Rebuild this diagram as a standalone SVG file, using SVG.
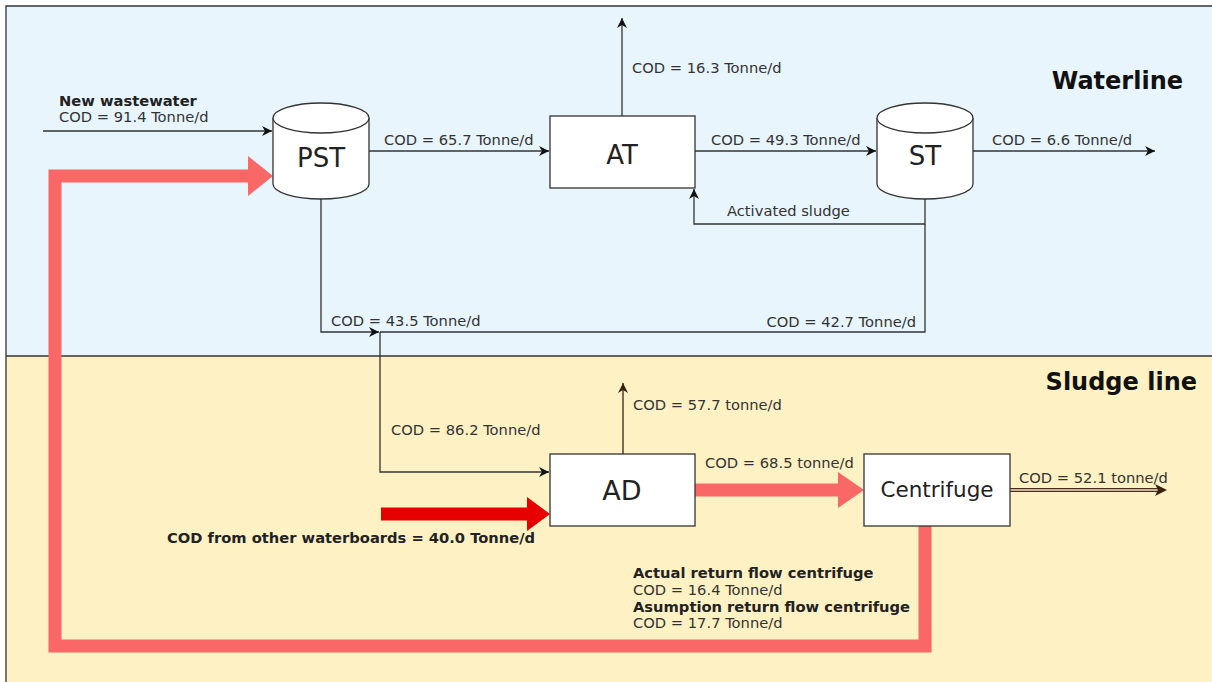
<svg xmlns="http://www.w3.org/2000/svg" width="1212" height="682" viewBox="0 0 1212 682">
<style>
.bg-w{fill:#E8F5FD}
.bg-s{fill:#FEF1C4}
.frame{fill:none;stroke:#333;stroke-width:1.3}
.node{fill:#fff;stroke:#333;stroke-width:1.3}
.nl{font-family:"DejaVu Sans",Verdana,sans-serif;font-size:26px;fill:#222;text-anchor:middle}
.lbl{font-family:"DejaVu Sans",Verdana,sans-serif;font-size:14.7px;fill:#333}
.b{font-weight:bold;fill:#222}
.title{font-family:"DejaVu Sans",Arial,sans-serif;font-size:24px;font-weight:bold;fill:#111;text-anchor:end}
.ln{fill:none;stroke:#333;stroke-width:1.3}
.br{fill:none;stroke:#3A2010;stroke-width:1.3}
.thick{fill:none;stroke:#F96866;stroke-width:13}
</style>
<defs>
<marker id="ar" markerUnits="userSpaceOnUse" markerWidth="12" markerHeight="12" refX="10" refY="5" orient="auto" viewBox="0 0 12 10">
<path d="M0,0 L10,5 L0,10 L3,5 Z" fill="#111"/>
</marker>
<marker id="arb" markerUnits="userSpaceOnUse" markerWidth="12" markerHeight="12" refX="10" refY="5" orient="auto" viewBox="0 0 12 10">
<path d="M0,0 L10,5 L0,10 L3,5 Z" fill="#3A2010"/>
</marker>
</defs>

<g id="background">
<rect class="bg-w" x="6" y="6" width="1206" height="350"/>
<rect class="bg-s" x="6" y="356" width="1206" height="326"/>
<path class="frame" d="M6,682 V6 H1212"/>
<path class="frame" d="M6,356 H1212"/>
<text class="title" x="1183" y="89">Waterline</text>
<text class="title" x="1197" y="390">Sludge line</text>
</g>

<g id="connectors">
<!-- return flow centrifuge -> PST -->
<path class="thick" d="M925,526 V646 H55 V176 H250"/>
<polygon points="248,156 273,176 248,196" fill="#F96866"/>
<!-- AD -> Centrifuge -->
<path class="thick" d="M695,490 H840"/>
<polygon points="838,472 864,490 838,508" fill="#F96866"/>
<!-- other waterboards -> AD -->
<path d="M381,514 H530" fill="none" stroke="#E60000" stroke-width="13"/>
<polygon points="527,497 550,514 527,531" fill="#E60000"/>

<path class="ln" d="M43,131 H272" marker-end="url(#ar)"/>
<path class="ln" d="M369,151 H549" marker-end="url(#ar)"/>
<path class="ln" d="M622,116 V18" marker-end="url(#ar)"/>
<path class="ln" d="M695,151 H876" marker-end="url(#ar)"/>
<path class="ln" d="M973,151 H1155" marker-end="url(#ar)"/>
<path class="ln" d="M925,199 V224 H694 V189" marker-end="url(#ar)"/>
<path class="ln" d="M925,224 V332 H380"/>
<path class="ln" d="M321,199 V332 H379" marker-end="url(#ar)"/>
<path class="ln" d="M380,332 V472 H549" marker-end="url(#ar)"/>
<path class="br" d="M623,454 V383" marker-end="url(#arb)"/>
<path d="M1010,490 H1160" fill="none" stroke="#4A2A18" stroke-width="4"/>
<path d="M1010,490 H1160" fill="none" stroke="#F3E2C0" stroke-width="1.5"/>
<path d="M1155,484 L1167,490 L1155,496 L1158,490 Z" fill="#3A2010"/>

<text class="lbl b" x="59" y="106">New wastewater</text>
<text class="lbl" x="59" y="122">COD = 91.4 Tonne/d</text>
<text class="lbl" x="384" y="145">COD = 65.7 Tonne/d</text>
<text class="lbl" x="632" y="73">COD = 16.3 Tonne/d</text>
<text class="lbl" x="711" y="145">COD = 49.3 Tonne/d</text>
<text class="lbl" x="992" y="145">COD = 6.6 Tonne/d</text>
<text class="lbl" x="727" y="216">Activated sludge</text>
<text class="lbl" x="331" y="326">COD = 43.5 Tonne/d</text>
<text class="lbl" x="916" y="327" text-anchor="end">COD = 42.7 Tonne/d</text>
<text class="lbl" x="391" y="435">COD = 86.2 Tonne/d</text>
<text class="lbl" x="633" y="410">COD = 57.7 tonne/d</text>
<text class="lbl" x="705" y="468">COD = 68.5 tonne/d</text>
<text class="lbl" x="1019" y="483">COD = 52.1 tonne/d</text>
<text class="lbl b" x="167" y="543">COD from other waterboards = 40.0 Tonne/d</text>
<text class="lbl b" x="633" y="578">Actual return flow centrifuge</text>
<text class="lbl" x="633" y="595">COD = 16.4 Tonne/d</text>
<text class="lbl b" x="633" y="612">Asumption return flow centrifuge</text>
<text class="lbl" x="633" y="628">COD = 17.7 Tonne/d</text>
</g>

<g id="PST">
<path class="node" d="M273,118 A48,15 0 0,1 369,118 V184 A48,15 0 0,1 273,184 Z"/>
<path class="node" d="M273,118 A48,15 0 0,0 369,118" fill="none"/>
<text class="nl" x="321" y="167">PST</text>
</g>

<g id="AT">
<rect class="node" x="550" y="116" width="145" height="72"/>
<text class="nl" x="622" y="164">AT</text>
</g>

<g id="ST">
<path class="node" d="M877,118 A48,15 0 0,1 973,118 V184 A48,15 0 0,1 877,184 Z"/>
<path class="node" d="M877,118 A48,15 0 0,0 973,118" fill="none"/>
<text class="nl" x="925" y="165">ST</text>
</g>

<g id="AD">
<rect class="node" x="550" y="454" width="145" height="72"/>
<text class="nl" x="622" y="500" style="font-size:27px">AD</text>
</g>

<g id="Centrifuge">
<rect class="node" x="864" y="454" width="146" height="72"/>
<text class="nl" x="937" y="497" style="font-size:21.5px">Centrifuge</text>
</g>
</svg>
